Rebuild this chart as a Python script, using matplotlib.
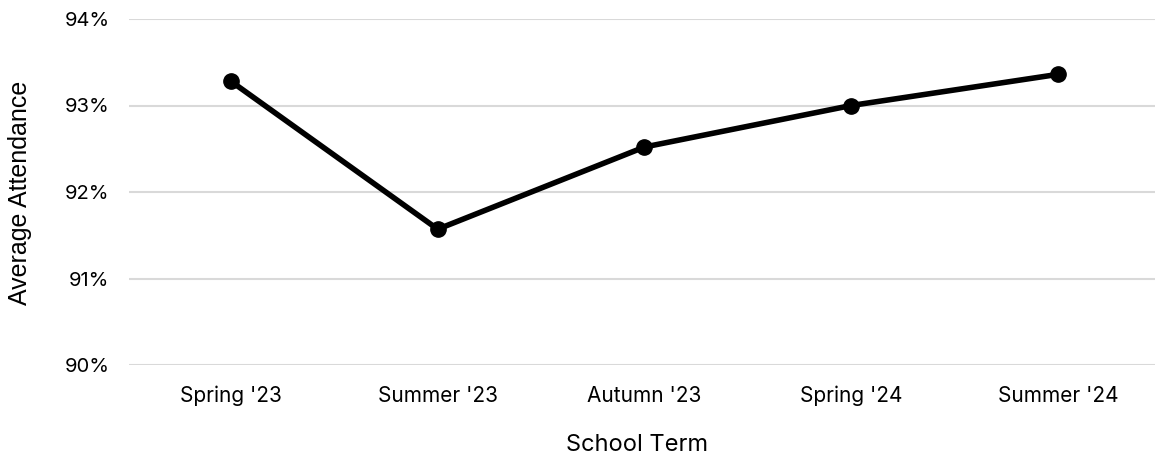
import matplotlib
matplotlib.use("Agg")
import matplotlib.pyplot as plt
from matplotlib.ticker import FuncFormatter

terms = ["Spring '23", "Summer '23", "Autumn '23", "Spring '24", "Summer '24"]
attendance = [93.28, 91.57, 92.52, 93.00, 93.36]
y_ticks = [90, 91, 92, 93, 94]

plt.rcParams['font.family'] = ['Inter', 'DejaVu Sans']

W, H = 1155, 459
fig = plt.figure(figsize=(W / 100, H / 100), dpi=100)
left, right = 129 / W, 1.0
top, bottom = 1 - 19 / H, 1 - 365 / H
ax = fig.add_axes([left, bottom, right - left, top - bottom])

x = list(range(len(terms)))
ax.plot(x, attendance, color='black', linewidth=4.0, marker='o',
        markersize=11, solid_joinstyle='round', zorder=3, clip_on=False)

ax.set_xlim(-0.493, 4.469)
ax.set_ylim(90, 94)
ax.set_yticks(y_ticks)
ax.yaxis.set_major_formatter(FuncFormatter(lambda v, p: f"{v:.0f}%"))
ax.set_xticks(x)
ax.set_xticklabels(terms)

ax.grid(axis='y', color='#d9d9d9', linewidth=1.5)
ax.set_axisbelow(True)
for s in ax.spines.values():
    s.set_visible(False)
ax.tick_params(axis='both', length=0, colors='black')
ax.tick_params(axis='x', labelsize=15, pad=15)
ax.tick_params(axis='y', labelsize=14.5, pad=14)

fig.text(637 / W, 1 - 445 / H, "School Term", ha='center', va='center',
         fontsize=17)
fig.text(20 / W, 1 - 193 / H, "Average Attendance", rotation=90,
         ha='center', va='center', fontsize=18,
         family=['Liberation Sans', 'DejaVu Sans'])

fig.savefig("out.png", dpi=100)
